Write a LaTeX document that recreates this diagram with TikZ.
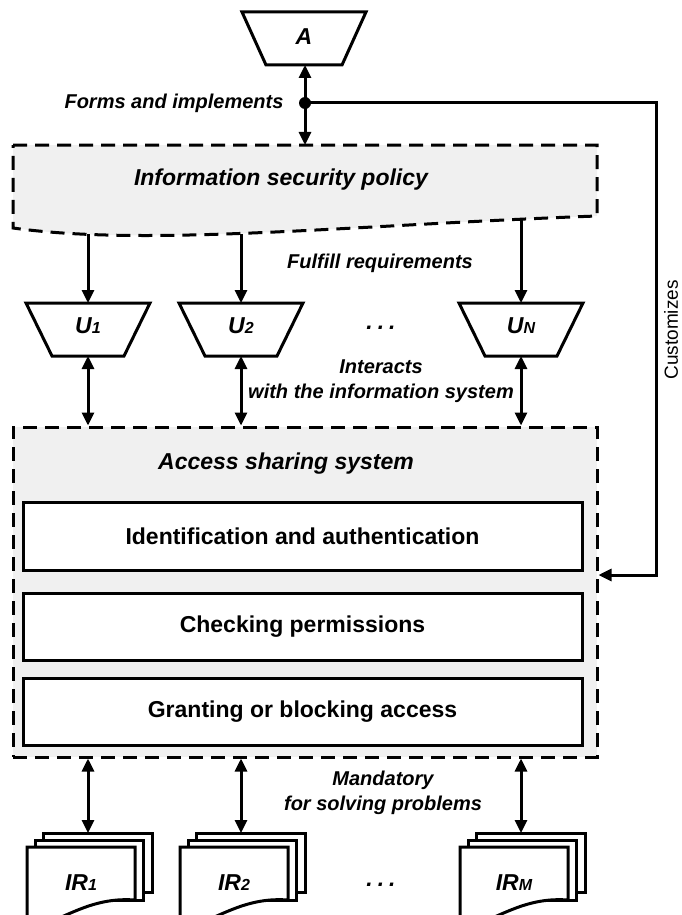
\documentclass[tikz,border=0pt]{standalone}
\usepackage{fontspec}
\setmainfont{Liberation Sans}
\usetikzlibrary{arrows.meta}
\definecolor{panel}{HTML}{F0F0F0}
\begin{document}
\begin{tikzpicture}[x=1pt,y=-1pt,
  ln/.style={line width=3pt, line join=miter},
  dsh/.style={line width=3pt, dash pattern=on 14pt off 8pt},
  arr/.style={line width=3pt,-{Triangle[length=13pt,width=12pt]}},
  darr/.style={line width=3pt,{Triangle[length=13pt,width=12pt]}-{Triangle[length=13pt,width=12pt]}},
  holder/.style={minimum width=124pt, minimum height=53pt, inner sep=0pt, outer sep=0pt},
  big/.style={font=\fontsize{23}{27}\selectfont\bfseries\itshape},
  lab/.style={font=\fontsize{20}{25}\selectfont\bfseries\itshape, align=center},
  boxt/.style={font=\fontsize{23}{27}\selectfont\bfseries},
  inbox/.style={draw, line width=3pt, fill=white, minimum width=559pt, inner sep=0pt},
  page/.style={draw, line width=3pt, fill=white, inner sep=0pt},
]
\useasboundingbox (0,0) rectangle (682,915);
\clip (0,0) rectangle (682,915);

% ---------- A ----------
\node[holder] (A) at (304,38.5) {};
\draw[ln, fill=white] (A.north west) -- (A.north east) -- ([xshift=-24pt]A.south east) -- ([xshift=24pt]A.south west) -- cycle;
\node[big, anchor=base] (At) at (304,45) {A};

% ---------- policy ----------
\draw[dsh, fill=panel] (13,145) -- (597,145) -- (597,216) .. controls (350,225) and (150,247) .. (13,228) -- cycle;
\node[big] (pol) at (281,180) {Information security policy};
\coordinate (ptop) at (305,145);
\coordinate (p1) at (88,234);
\coordinate (p2) at (241,234);
\coordinate (pN) at (521,219);

% ---------- dot and connectors ----------
\node[circle, fill, inner sep=0pt, minimum size=12pt] (dot) at (305,103) {};
\draw[arr] (dot.center) -- (dot.center |- A.south);
\draw[arr] (dot.center) -- (ptop);
\node[lab, anchor=east] (forms) at (287,103) {Forms and implements};

% ---------- users ----------
\foreach \x/\n/\s in {88/1/1, 241/2/2, 521/N/N}{
  \node[holder] (u\n) at (\x,329.5) {};
  \draw[ln, fill=white] (u\n.north west) -- (u\n.north east) -- ([xshift=-26pt]u\n.south east) -- ([xshift=26pt]u\n.south west) -- cycle;
  \node[big, anchor=base] (u\n t) at (\x,333) {U{\fontsize{16}{18}\selectfont\s}};
}
\draw[arr] (p1) -- (u1.north);
\draw[arr] (p2) -- (u2.north);
\draw[arr] (pN) -- (uN.north);
\node[big, anchor=base] (udots) at (381,329) {.\hspace{5pt}.\hspace{5pt}.};
\node[lab] (ful) at (380,263) {Fulfill requirements};
\node[lab] (inter) at (381,381) {Interacts\\with the information system};

% ---------- access sharing system ----------
\node[draw, dsh, fill=panel, minimum width=584pt, minimum height=330pt, inner sep=0pt] (acc) at (305,592) {};
\node[big] (acct) at (286,464) {Access sharing system};
\node[inbox, boxt, minimum height=68pt] (b1) at (302.5,536) {Identification and authentication};
\node[inbox, boxt, minimum height=67pt] (b2) at (302.5,626.5) {Checking permissions};
\node[inbox, boxt, minimum height=67pt] (b3) at (302.5,711.5) {Granting or blocking access};

\draw[darr] (u1.south) -- (u1.south |- acc.north);
\draw[darr] (u2.south) -- (u2.south |- acc.north);
\draw[darr] (uN.south) -- (uN.south |- acc.north);

% ---------- customizes ----------
\coordinate (cz) at (656,575);
\draw[arr, line join=miter] (dot.center) -| (cz) -- (cz -| acc.east);
\node[rotate=90, font=\fontsize{19}{21}\selectfont] (cust) at (671,330) {Customizes};

% ---------- information resources ----------
\foreach \x/\n/\s in {88/1/1, 241/2/2, 521/M/M}{
  \node[page, minimum width=109pt, minimum height=59pt] (ir\n c) at (\x+9.5,862.5) {};
  \node[page, minimum width=108pt, minimum height=60pt] (ir\n b) at (\x+1,870) {};
  \draw[ln, fill=white] (\x-61,847) -- (\x+47,847) -- (\x+47,900) .. controls (\x+7,897) and (\x-18,915) .. (\x-46,925) -- (\x-61,925) -- cycle;
  \coordinate (ir\n a) at (\x,833);
  \node[big, anchor=base] (ir\n t) at (\x-7,890) {IR{\fontsize{16}{18}\selectfont\s}};
  \draw[darr] (ir\n a |- acc.south) -- (ir\n a);
}
\node[big, anchor=base] (idots) at (381,886) {.\hspace{5pt}.\hspace{5pt}.};
\node[lab] (mand) at (383,793) {Mandatory\\for solving problems};
\end{tikzpicture}
\end{document}
